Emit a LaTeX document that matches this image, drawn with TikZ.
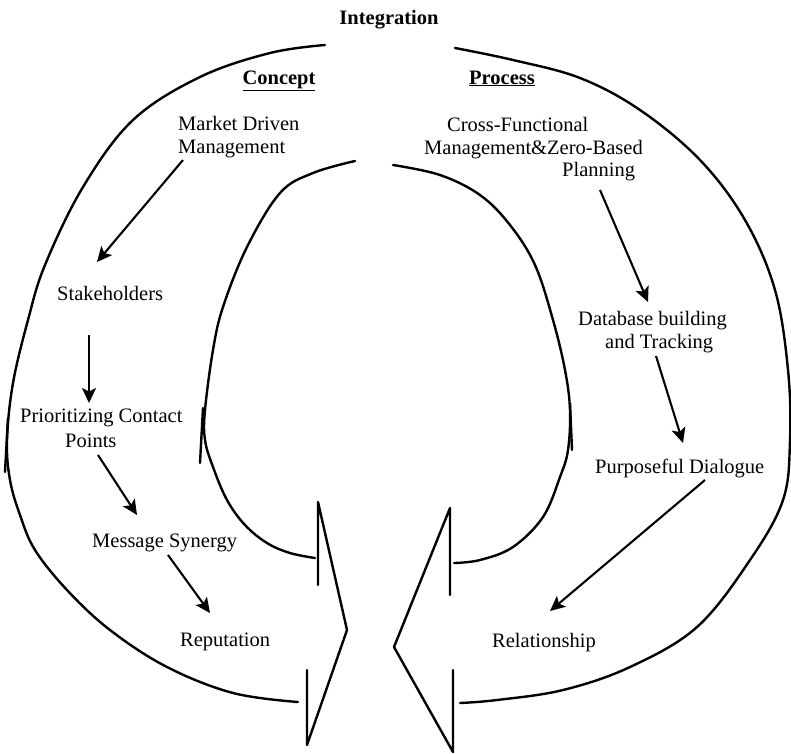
\documentclass[tikz,border=0pt]{standalone}
\usepackage{fontspec}
\setmainfont{Liberation Serif}
\usetikzlibrary{arrows.meta}
\begin{document}
\begin{tikzpicture}[x=1pt,y=-1pt,
  curve/.style={line width=2.4pt, line cap=round, line join=round},
  flow/.style={line width=2.1pt, -{Stealth[length=15pt,width=14pt,inset=3.5pt]}},
  lbl/.style={inner sep=0pt, anchor=base west, font=\fontsize{20.5}{23}\selectfont},
  head/.style={inner sep=0pt, anchor=base, font=\fontsize{20.5}{23}\selectfont\bfseries},
  barb/.style={line width=2.4pt, line cap=round}]
\useasboundingbox (0,0) rectangle (791,753);

% headings
\node[head] (integ) at (389,24) {Integration};
\node[head] (concept) at (279,84) {\underline{Concept}};
\node[head] (process) at (502,84) {\underline{Process}};

% concept side
\node[lbl] (mdm1) at (178,130) {Market Driven};
\node[lbl] (mdm2) at (178,153) {Management};
\node[lbl] (stake) at (57,300) {Stakeholders};
\node[lbl] (prio1) at (20,422) {Prioritizing Contact};
\node[lbl] (prio2) at (65,447) {Points};
\node[lbl] (msg) at (92,547) {Message Synergy};
\node[lbl] (rep) at (180,646) {Reputation};

% process side
\node[lbl] (cf1) at (447,131) {Cross-Functional};
\node[lbl] (cf2) at (424,154) {Management\&Zero-Based};
\node[lbl] (cf3) at (562,176) {Planning};
\node[lbl] (db1) at (578,325) {Database building};
\node[lbl] (db2) at (605,348) {and Tracking};
\node[lbl] (pd) at (595,473) {Purposeful Dialogue};
\node[lbl] (rel) at (492,647) {Relationship};

% arrow end points
\coordinate (a1s) at (183,160); \coordinate (a1e) at (97,262);
\coordinate (a2s) at (89,335);  \coordinate (a2e) at (89,403);
\coordinate (a3s) at (98,455);  \coordinate (a3e) at (137,515);
\coordinate (a4s) at (168,555); \coordinate (a4e) at (210,613);
\coordinate (a5s) at (600,190); \coordinate (a5e) at (648,302);
\coordinate (a6s) at (656,356); \coordinate (a6e) at (683,443);
\coordinate (a7s) at (705,480); \coordinate (a7e) at (550,611);
\draw[flow] (a1s) -- (a1e);
\draw[flow] (a2s) -- (a2e);
\draw[flow] (a3s) -- (a3e);
\draw[flow] (a4s) -- (a4e);
\draw[flow] (a5s) -- (a5e);
\draw[flow] (a6s) -- (a6e);
\draw[flow] (a7s) -- (a7e);

% outer left arc
\draw[curve] plot[smooth, tension=0.6] coordinates {(325,45) (270,53) (200,77) (133,120) (83,187) (45,265) (28,320) (13,383) (7,440) (10,480) (20,515) (35,550) (67,590) (110,630) (167,667) (233,693) (298,702)};
% outer right arc
\draw[curve] plot[smooth, tension=0.6] coordinates {(455,48) (513,60) (580,78) (640,110) (700,160) (745,220) (775,290) (788,370) (790,440) (783,500) (750,560) (697,627) (630,667) (563,690) (497,700) (460,703)};
% inner left arc
\draw[curve] plot[smooth, tension=0.6] coordinates {(355,161) (313,173) (280,193) (247,247) (223,307) (213,350) (205,410) (205,440) (213,467) (227,500) (245,525) (267,543) (290,553) (315,558)};
% inner right arc
\draw[curve] plot[smooth, tension=0.6] coordinates {(393,165) (440,175) (480,195) (510,225) (535,265) (553,320) (565,370) (570,410) (568,450) (560,477) (543,517) (513,547) (480,560) (454,563)};

% barbs on arcs
\draw[barb] (8,418) -- (5,472);
\draw[barb] (203,408) -- (200,463);
\draw[barb] (570,403) -- (572,450);

% big arrows
\draw[curve] (318,585) -- (318,502) -- (347,630) -- (307,745) -- (307,670);
\draw[curve] (450,595) -- (450,508) -- (394,647) -- (453,752) -- (453,670);
\end{tikzpicture}
\end{document}
